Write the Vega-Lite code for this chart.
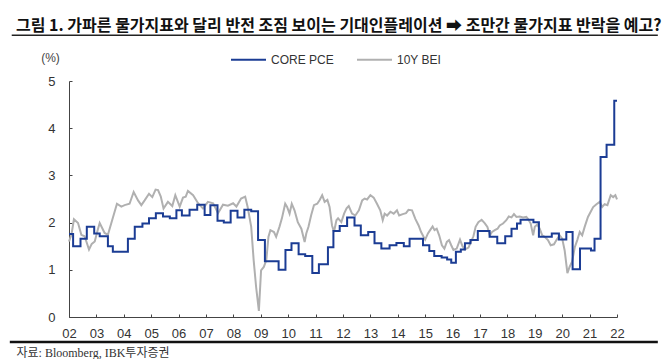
{
  "$schema": "https://vega.github.io/schema/vega-lite/v6.json",
  "autosize": {"type": "none"},
  "padding": {"left": 69, "top": 81, "right": 53, "bottom": 42},
  "width": 548,
  "height": 236,
  "background": "white",
  "config": {"view": {"stroke": null}},
  "title": {
    "text": "그림 1. 가파른 물가지표와 달리 반전 조짐 보이는 기대인플레이션 ➡ 조만간 물가지표 반락을 예고?",
    "anchor": "start",
    "frame": "group",
    "font": "Noto Sans CJK KR, DejaVu Sans",
    "fontSize": 16,
    "fontWeight": "bold",
    "color": "#111",
    "dx": -53,
    "dy": -1,
    "offset": 0
  },
  "datasets": {
    "pce": [
      {"t": 2002.00, "v": 1.76}, {"t": 2002.15, "v": 1.50}, {"t": 2002.42, "v": 1.66}, {"t": 2002.65, "v": 1.91},
      {"t": 2002.92, "v": 1.77}, {"t": 2003.12, "v": 1.71}, {"t": 2003.42, "v": 1.50}, {"t": 2003.60, "v": 1.38},
      {"t": 2004.15, "v": 1.66}, {"t": 2004.40, "v": 1.91}, {"t": 2004.68, "v": 1.98}, {"t": 2004.92, "v": 2.09},
      {"t": 2005.17, "v": 2.20}, {"t": 2005.43, "v": 2.13}, {"t": 2005.68, "v": 2.09}, {"t": 2005.92, "v": 2.26},
      {"t": 2006.12, "v": 2.15}, {"t": 2006.40, "v": 2.27}, {"t": 2006.68, "v": 2.38}, {"t": 2006.95, "v": 2.16},
      {"t": 2007.16, "v": 2.37}, {"t": 2007.42, "v": 2.04}, {"t": 2007.65, "v": 2.00}, {"t": 2007.90, "v": 2.25},
      {"t": 2008.15, "v": 2.11}, {"t": 2008.40, "v": 2.27}, {"t": 2008.65, "v": 2.24}, {"t": 2008.90, "v": 1.63},
      {"t": 2009.15, "v": 1.18}, {"t": 2009.65, "v": 1.00}, {"t": 2009.90, "v": 1.42}, {"t": 2010.12, "v": 1.56},
      {"t": 2010.38, "v": 1.33}, {"t": 2010.62, "v": 1.29}, {"t": 2010.88, "v": 0.93}, {"t": 2011.12, "v": 1.12},
      {"t": 2011.45, "v": 1.48}, {"t": 2011.65, "v": 1.82}, {"t": 2011.88, "v": 1.93}, {"t": 2012.15, "v": 2.11},
      {"t": 2012.42, "v": 1.94}, {"t": 2012.65, "v": 1.73}, {"t": 2012.92, "v": 1.80}, {"t": 2013.15, "v": 1.56},
      {"t": 2013.40, "v": 1.45}, {"t": 2013.70, "v": 1.52}, {"t": 2013.95, "v": 1.57}, {"t": 2014.22, "v": 1.50},
      {"t": 2014.43, "v": 1.66}, {"t": 2014.92, "v": 1.52}, {"t": 2015.15, "v": 1.40}, {"t": 2015.33, "v": 1.29},
      {"t": 2015.60, "v": 1.26}, {"t": 2015.80, "v": 1.22}, {"t": 2015.95, "v": 1.15}, {"t": 2016.12, "v": 1.38},
      {"t": 2016.30, "v": 1.43}, {"t": 2016.45, "v": 1.56}, {"t": 2016.65, "v": 1.63}, {"t": 2016.92, "v": 1.82},
      {"t": 2017.35, "v": 1.70}, {"t": 2017.63, "v": 1.56}, {"t": 2017.92, "v": 1.71}, {"t": 2018.15, "v": 1.87},
      {"t": 2018.35, "v": 1.98}, {"t": 2018.48, "v": 2.06}, {"t": 2018.95, "v": 2.01}, {"t": 2019.15, "v": 1.70},
      {"t": 2019.62, "v": 1.77}, {"t": 2019.88, "v": 1.64}, {"t": 2020.15, "v": 1.80}, {"t": 2020.38, "v": 1.01},
      {"t": 2020.65, "v": 1.45}, {"t": 2021.05, "v": 1.41}, {"t": 2021.18, "v": 1.66}, {"t": 2021.40, "v": 3.39},
      {"t": 2021.62, "v": 3.65}, {"t": 2021.90, "v": 4.58}, {"t": 2022.00, "v": 4.58}
    ],
    "bei": [
      {"t": 2002.00, "v": 1.60}, {"t": 2002.09, "v": 1.75}, {"t": 2002.18, "v": 2.07}, {"t": 2002.33, "v": 1.99},
      {"t": 2002.45, "v": 1.74}, {"t": 2002.57, "v": 1.71}, {"t": 2002.73, "v": 1.43}, {"t": 2002.83, "v": 1.55},
      {"t": 2002.94, "v": 1.60}, {"t": 2003.05, "v": 1.85}, {"t": 2003.12, "v": 1.99}, {"t": 2003.30, "v": 1.78},
      {"t": 2003.42, "v": 1.74}, {"t": 2003.58, "v": 2.06}, {"t": 2003.75, "v": 2.40}, {"t": 2003.91, "v": 2.34},
      {"t": 2004.03, "v": 2.37}, {"t": 2004.21, "v": 2.40}, {"t": 2004.36, "v": 2.65}, {"t": 2004.52, "v": 2.47},
      {"t": 2004.64, "v": 2.37}, {"t": 2004.76, "v": 2.47}, {"t": 2004.92, "v": 2.61}, {"t": 2005.04, "v": 2.54},
      {"t": 2005.16, "v": 2.70}, {"t": 2005.25, "v": 2.69}, {"t": 2005.35, "v": 2.55}, {"t": 2005.45, "v": 2.30},
      {"t": 2005.61, "v": 2.44}, {"t": 2005.77, "v": 2.35}, {"t": 2005.88, "v": 2.58}, {"t": 2006.04, "v": 2.34},
      {"t": 2006.16, "v": 2.53}, {"t": 2006.26, "v": 2.55}, {"t": 2006.34, "v": 2.67}, {"t": 2006.53, "v": 2.58},
      {"t": 2006.71, "v": 2.41}, {"t": 2006.89, "v": 2.30}, {"t": 2007.07, "v": 2.44}, {"t": 2007.26, "v": 2.41},
      {"t": 2007.44, "v": 2.20}, {"t": 2007.62, "v": 2.38}, {"t": 2007.80, "v": 2.36}, {"t": 2007.99, "v": 2.41},
      {"t": 2008.11, "v": 2.34}, {"t": 2008.28, "v": 2.51}, {"t": 2008.43, "v": 2.55}, {"t": 2008.52, "v": 2.33},
      {"t": 2008.65, "v": 1.91}, {"t": 2008.74, "v": 1.20}, {"t": 2008.83, "v": 0.63}, {"t": 2008.93, "v": 0.13},
      {"t": 2009.01, "v": 0.99}, {"t": 2009.11, "v": 1.06}, {"t": 2009.20, "v": 1.20}, {"t": 2009.28, "v": 1.70},
      {"t": 2009.35, "v": 1.84}, {"t": 2009.48, "v": 1.80}, {"t": 2009.56, "v": 1.70}, {"t": 2009.68, "v": 1.91},
      {"t": 2009.77, "v": 2.09}, {"t": 2009.89, "v": 2.40}, {"t": 2009.96, "v": 2.33}, {"t": 2010.05, "v": 2.19},
      {"t": 2010.13, "v": 2.40}, {"t": 2010.23, "v": 2.26}, {"t": 2010.35, "v": 2.01}, {"t": 2010.48, "v": 1.87},
      {"t": 2010.60, "v": 1.59}, {"t": 2010.66, "v": 1.77}, {"t": 2010.74, "v": 1.91}, {"t": 2010.84, "v": 2.16},
      {"t": 2010.94, "v": 2.37}, {"t": 2011.06, "v": 2.40}, {"t": 2011.15, "v": 2.48}, {"t": 2011.24, "v": 2.58},
      {"t": 2011.33, "v": 2.44}, {"t": 2011.43, "v": 2.48}, {"t": 2011.51, "v": 2.33}, {"t": 2011.60, "v": 1.94},
      {"t": 2011.67, "v": 1.80}, {"t": 2011.76, "v": 2.05}, {"t": 2011.82, "v": 2.09}, {"t": 2011.94, "v": 2.01},
      {"t": 2012.04, "v": 2.19}, {"t": 2012.13, "v": 2.30}, {"t": 2012.21, "v": 2.35}, {"t": 2012.33, "v": 2.19},
      {"t": 2012.45, "v": 2.15}, {"t": 2012.58, "v": 2.26}, {"t": 2012.70, "v": 2.47}, {"t": 2012.79, "v": 2.51},
      {"t": 2012.88, "v": 2.49}, {"t": 2013.00, "v": 2.58}, {"t": 2013.12, "v": 2.53}, {"t": 2013.24, "v": 2.40},
      {"t": 2013.36, "v": 2.26}, {"t": 2013.45, "v": 2.05}, {"t": 2013.52, "v": 2.19}, {"t": 2013.61, "v": 2.15},
      {"t": 2013.73, "v": 2.23}, {"t": 2013.85, "v": 2.19}, {"t": 2013.97, "v": 2.26}, {"t": 2014.05, "v": 2.15},
      {"t": 2014.18, "v": 2.18}, {"t": 2014.30, "v": 2.20}, {"t": 2014.39, "v": 2.27}, {"t": 2014.52, "v": 2.26},
      {"t": 2014.64, "v": 2.08}, {"t": 2014.76, "v": 1.94}, {"t": 2014.85, "v": 1.80}, {"t": 2014.94, "v": 1.70},
      {"t": 2015.00, "v": 1.64}, {"t": 2015.10, "v": 1.77}, {"t": 2015.18, "v": 1.84}, {"t": 2015.27, "v": 1.92},
      {"t": 2015.34, "v": 1.84}, {"t": 2015.42, "v": 1.87}, {"t": 2015.51, "v": 1.73}, {"t": 2015.61, "v": 1.52},
      {"t": 2015.70, "v": 1.45}, {"t": 2015.79, "v": 1.59}, {"t": 2015.87, "v": 1.63}, {"t": 2015.95, "v": 1.52},
      {"t": 2016.03, "v": 1.42}, {"t": 2016.15, "v": 1.45}, {"t": 2016.27, "v": 1.64}, {"t": 2016.36, "v": 1.50},
      {"t": 2016.45, "v": 1.43}, {"t": 2016.58, "v": 1.47}, {"t": 2016.67, "v": 1.59}, {"t": 2016.76, "v": 1.71},
      {"t": 2016.84, "v": 1.91}, {"t": 2016.94, "v": 2.01}, {"t": 2017.06, "v": 2.06}, {"t": 2017.17, "v": 1.99},
      {"t": 2017.27, "v": 1.91}, {"t": 2017.36, "v": 1.73}, {"t": 2017.44, "v": 1.80}, {"t": 2017.54, "v": 1.84},
      {"t": 2017.64, "v": 1.87}, {"t": 2017.72, "v": 1.94}, {"t": 2017.84, "v": 1.98}, {"t": 2017.96, "v": 2.05},
      {"t": 2018.05, "v": 2.13}, {"t": 2018.15, "v": 2.11}, {"t": 2018.24, "v": 2.18}, {"t": 2018.33, "v": 2.12},
      {"t": 2018.45, "v": 2.13}, {"t": 2018.57, "v": 2.11}, {"t": 2018.69, "v": 2.12}, {"t": 2018.75, "v": 2.08},
      {"t": 2018.85, "v": 1.98}, {"t": 2018.94, "v": 1.73}, {"t": 2019.00, "v": 1.91}, {"t": 2019.09, "v": 1.96},
      {"t": 2019.18, "v": 1.87}, {"t": 2019.27, "v": 1.73}, {"t": 2019.36, "v": 1.70}, {"t": 2019.48, "v": 1.63},
      {"t": 2019.58, "v": 1.52}, {"t": 2019.70, "v": 1.54}, {"t": 2019.79, "v": 1.63}, {"t": 2019.91, "v": 1.73},
      {"t": 2020.00, "v": 1.66}, {"t": 2020.09, "v": 1.41}, {"t": 2020.19, "v": 0.93}, {"t": 2020.27, "v": 1.06},
      {"t": 2020.36, "v": 1.17}, {"t": 2020.46, "v": 1.48}, {"t": 2020.55, "v": 1.63}, {"t": 2020.64, "v": 1.80},
      {"t": 2020.73, "v": 1.73}, {"t": 2020.82, "v": 1.91}, {"t": 2020.94, "v": 2.12}, {"t": 2021.04, "v": 2.23},
      {"t": 2021.13, "v": 2.33}, {"t": 2021.25, "v": 2.39}, {"t": 2021.37, "v": 2.44}, {"t": 2021.46, "v": 2.33},
      {"t": 2021.55, "v": 2.39}, {"t": 2021.65, "v": 2.37}, {"t": 2021.77, "v": 2.58}, {"t": 2021.86, "v": 2.54},
      {"t": 2021.94, "v": 2.58}, {"t": 2022.00, "v": 2.49}
    ]
  },
  "encoding": {
    "x": {
      "type": "quantitative",
      "scale": {"domain": [2002, 2022], "nice": false, "zero": false},
      "axis": {
        "values": [2002,2003,2004,2005,2006,2007,2008,2009,2010,2011,2012,2013,2014,2015,2016,2017,2018,2019,2020,2021,2022],
        "labelExpr": "slice(toString(datum.value), 2)",
        "grid": false,
        "domainColor": "#444",
        "tickColor": "#444",
        "tickSize": -3,
        "labelPadding": 13,
        "labelFont": "Liberation Sans",
        "labelFontSize": 13,
        "labelColor": "#333",
        "labelFlush": false,
        "labelOverlap": false,
        "title": "자료: Bloomberg, IBK투자증권",
        "titleFont": "Liberation Serif, Noto Sans CJK KR",
        "titleFontSize": 12,
        "titleFontWeight": "normal",
        "titleColor": "#333",
        "titleX": -53,
        "titleY": 35,
        "titleAlign": "left",
        "titleBaseline": "middle"
      }
    },
    "y": {
      "type": "quantitative",
      "scale": {"domain": [0, 5], "nice": false, "zero": false},
      "axis": {
        "values": [0, 1, 2, 3, 4, 5],
        "grid": false,
        "domainColor": "#444",
        "tickColor": "#444",
        "tickSize": -3,
        "labelPadding": 17,
        "labelFont": "Liberation Sans",
        "labelFontSize": 13,
        "labelColor": "#333",
        "labelFlush": false,
        "title": "(%)",
        "titleFont": "Liberation Sans",
        "titleFontSize": 12,
        "titleFontWeight": "normal",
        "titleColor": "#444",
        "titleAngle": 0,
        "titleX": -19,
        "titleY": -24,
        "titleAlign": "center",
        "titleBaseline": "middle"
      }
    }
  },
  "layer": [
    {
      "data": {"name": "bei"},
      "mark": {"type": "line", "strokeWidth": 2, "interpolate": "linear"},
      "encoding": {
        "x": {"field": "t", "type": "quantitative"},
        "y": {"field": "v", "type": "quantitative"},
        "color": {
          "datum": "10Y BEI",
          "type": "nominal",
          "scale": {"domain": ["CORE PCE", "10Y BEI"], "range": ["#1B3C94", "#B0B0B0"]},
          "legend": {
            "orient": "none",
            "direction": "horizontal",
            "legendX": 161,
            "legendY": -40,
            "title": null,
            "symbolType": "stroke",
            "symbolSize": 1225,
            "symbolStrokeWidth": 2,
            "labelFont": "Liberation Sans",
            "labelFontSize": 12,
            "labelColor": "#333",
            "labelOffset": 4,
            "columnPadding": 19,
            "padding": 0
          }
        }
      }
    },
    {
      "data": {"name": "pce"},
      "mark": {"type": "line", "strokeWidth": 2, "interpolate": "step-after"},
      "encoding": {
        "x": {"field": "t", "type": "quantitative"},
        "y": {"field": "v", "type": "quantitative"},
        "color": {"datum": "CORE PCE", "type": "nominal"}
      }
    },
    {
      "data": {"values": [{}]},
      "mark": {"type": "rule", "color": "#222", "strokeWidth": 1.5},
      "encoding": {
        "x": {"datum": 1999.91},
        "x2": {"datum": 2023.49},
        "y": {"datum": 5.968}
      }
    },
    {
      "data": {"values": [{}]},
      "mark": {"type": "rule", "color": "#111", "strokeWidth": 2.5},
      "encoding": {
        "x": {"datum": 1999.84},
        "x2": {"datum": 2023.49},
        "y": {"datum": -0.53}
      }
    }
  ]
}
